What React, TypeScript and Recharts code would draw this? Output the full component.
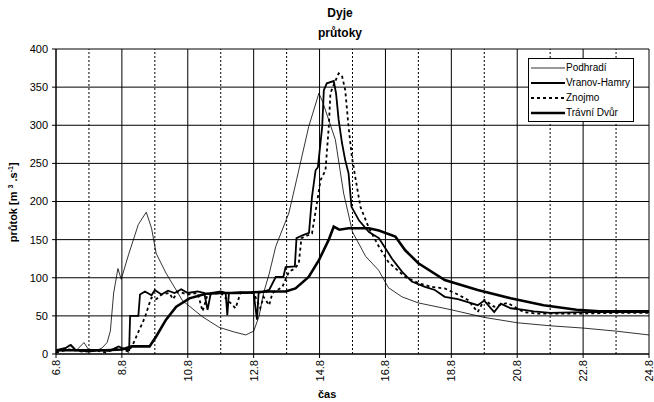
import { LineChart, Line, XAxis, YAxis, CartesianGrid, ReferenceLine } from 'recharts'

// [day of August, discharge m3/s]
const podhradi: [number, number][] = [
  [6, 3], [6.2, 5], [6.4, 12], [6.6, 4], [6.85, 15], [7, 5], [7.2, 4], [7.4, 8], [7.55, 15],
  [7.65, 30], [7.75, 80], [7.88, 112], [7.98, 98], [8.2, 130], [8.5, 170], [8.74, 186],
  [8.9, 165], [9.04, 132], [9.34, 106], [9.84, 70], [10.44, 49], [10.95, 35], [11.4, 29],
  [11.76, 25], [12.0, 30], [12.16, 49], [12.3, 80], [12.47, 105], [12.67, 141], [13.07, 185],
  [13.3, 228], [13.67, 298], [13.98, 342], [14.1, 330], [14.48, 281], [14.73, 211], [15.0, 160],
  [15.4, 128], [15.79, 110], [16.09, 87], [16.5, 75], [17, 67], [18, 58], [19, 48], [20, 41],
  [21, 37], [22, 34], [23, 30], [24, 25],
]

const vranovHamry: [number, number][] = [
  [6, 5], [6.3, 8], [6.45, 12], [6.6, 5], [7.0, 3], [7.3, 5], [7.6, 4], [7.9, 10], [8.1, 6],
  [8.22, 5], [8.25, 50], [8.5, 50], [8.55, 78], [8.7, 82], [8.9, 77], [9.0, 84], [9.2, 78],
  [9.4, 83], [9.6, 80], [9.8, 85], [10.0, 80], [10.3, 82], [10.5, 80], [10.6, 58], [10.7, 80],
  [11.0, 82], [11.15, 80], [11.2, 51], [11.25, 80], [11.6, 81], [12.0, 80], [12.1, 45],
  [12.15, 80], [12.47, 84], [12.67, 101], [12.9, 101], [12.97, 114], [13.25, 115], [13.3, 152],
  [13.5, 156], [13.68, 159], [13.77, 206], [13.88, 241], [13.95, 245], [14.08, 298],
  [14.13, 346], [14.22, 355], [14.43, 358], [14.5, 342], [14.58, 307], [14.68, 277],
  [14.78, 254], [14.88, 237], [14.97, 193], [15.2, 175], [15.5, 160], [15.8, 152], [16.2, 125],
  [16.5, 108], [16.8, 95], [17.2, 88], [17.5, 84], [17.8, 75], [18.2, 72], [18.5, 68],
  [18.8, 64], [19.0, 70], [19.3, 55], [19.5, 66], [19.8, 60], [20.2, 58], [20.5, 56], [21, 54],
  [22, 55], [23, 55], [24, 55],
]

const znojmo: [number, number][] = [
  [6, 2], [6.4, 6], [6.8, 3], [7.2, 5], [7.5, 2], [7.9, 8], [8.2, 3], [8.35, 14], [8.52, 31],
  [8.64, 42], [8.72, 51], [8.84, 67], [8.9, 74], [9.05, 72], [9.2, 78], [9.44, 80], [9.55, 72],
  [9.7, 82], [10.0, 78], [10.3, 80], [10.45, 56], [10.6, 78], [11.0, 80], [11.45, 60],
  [11.6, 80], [12.0, 80], [12.2, 60], [12.3, 75], [12.47, 64], [12.57, 80], [12.87, 88],
  [13.07, 108], [13.25, 112], [13.37, 119], [13.45, 152], [13.77, 158], [13.92, 198],
  [14.03, 228], [14.18, 241], [14.28, 298], [14.33, 342], [14.45, 355], [14.58, 368],
  [14.68, 365], [14.78, 346], [14.88, 298], [14.98, 259], [15.08, 233], [15.24, 193],
  [15.5, 165], [15.8, 141], [16.1, 120], [16.6, 101], [17.0, 93], [17.4, 88], [17.8, 86],
  [18.2, 78], [18.5, 71], [18.8, 55], [19.0, 71], [19.3, 62], [19.7, 67], [20.2, 55],
  [20.6, 53], [21, 53], [22, 53], [23, 54], [24, 54],
]

const travniDvur: [number, number][] = [
  [6, 5], [6.5, 5], [7, 5], [7.5, 5], [8.0, 6], [8.3, 10], [8.84, 10], [9.04, 23], [9.34, 45],
  [9.65, 62], [10.05, 73], [10.55, 79], [11.0, 80], [11.5, 80], [12.0, 81], [12.47, 82],
  [12.97, 82], [13.27, 86], [13.67, 101], [13.98, 123], [14.28, 150], [14.43, 167], [14.6, 163],
  [14.88, 165], [15.5, 165], [15.8, 162], [16.3, 154], [16.6, 136], [17, 119], [17.8, 97],
  [18.8, 84], [19.8, 73], [20.8, 64], [21.8, 58], [22.5, 56], [24, 56],
]

const majorDays = [6, 8, 10, 12, 14, 16, 18, 20, 22, 24]
const minorDays = [7, 9, 11, 13, 15, 17, 19, 21, 23]
const yTicks = [0, 50, 100, 150, 200, 250, 300, 350, 400]

const font = '"Liberation Sans", Arial, sans-serif'

const series = [
  { name: 'Podhradí', data: podhradi, width: 0.8, dash: undefined },
  { name: 'Vranov-Hamry', data: vranovHamry, width: 1.8, dash: undefined },
  { name: 'Znojmo', data: znojmo, width: 1.8, dash: '3 3' },
  { name: 'Trávní Dvůr', data: travniDvur, width: 2.6, dash: undefined },
]

const toPoints = (arr: [number, number][]) => arr.map(([t, v]) => ({ t, v }))

function DayTick(props: any) {
  const { x, y, payload } = props
  return (
    <text
      x={x}
      y={y}
      transform={`rotate(-90 ${x} ${y})`}
      textAnchor="end"
      dy={4}
      fontSize={11}
      fontFamily={font}
      fill="#000"
    >
      {`${payload.value}.8`}
    </text>
  )
}

function LegendBox() {
  return (
    <div
      style={{
        position: 'absolute',
        left: 528,
        top: 58,
        width: 104,
        border: '1px solid #000',
        background: '#fff',
        padding: '1px 0',
        fontFamily: font,
        fontSize: 10,
        lineHeight: '15px',
        whiteSpace: 'nowrap',
      }}
    >
      {series.map((s) => (
        <div key={s.name} style={{ display: 'flex', alignItems: 'center' }}>
          <svg width={34} height={6} style={{ marginLeft: 2, marginRight: 1 }}>
            <line x1={0} y1={3} x2={34} y2={3} stroke="#000" strokeWidth={s.width} strokeDasharray={s.dash} />
          </svg>
          <span>{s.name}</span>
        </div>
      ))}
    </div>
  )
}

export default function App() {
  return (
    <div style={{ position: 'absolute', left: 0, top: 0, width: 654, height: 402, background: '#fff' }}>
      <div
        style={{
          position: 'absolute',
          left: 290,
          top: 3,
          width: 100,
          textAlign: 'center',
          fontFamily: font,
          fontWeight: 'bold',
          fontSize: 12,
          lineHeight: '20px',
        }}
      >
        Dyje
        <br />
        průtoky
      </div>
      <div
        style={{
          position: 'absolute',
          left: 13 - 70,
          top: 196,
          width: 140,
          textAlign: 'center',
          transform: 'rotate(-90deg)',
          fontFamily: font,
          fontWeight: 'bold',
          fontSize: 11,
        }}
      >
        průtok [m <sup style={{ fontSize: 7 }}>3</sup> .s<sup style={{ fontSize: 7 }}>-1</sup>]
      </div>
      <div
        style={{
          position: 'absolute',
          left: 318,
          top: 388,
          fontFamily: font,
          fontWeight: 'bold',
          fontSize: 11,
        }}
      >
        čas
      </div>
      <LineChart width={654} height={402} margin={{ top: 49, right: 5, bottom: 0, left: 0 }}>
        <CartesianGrid stroke="#000" strokeWidth={1} />
        {minorDays.map((d) => (
          <ReferenceLine key={d} x={d} stroke="#000" strokeDasharray="2 2" strokeWidth={1} />
        ))}
        <XAxis
          dataKey="t"
          type="number"
          domain={[6, 24]}
          ticks={majorDays}
          allowDuplicatedCategory={false}
          height={48}
          tick={<DayTick />}
          tickSize={4}
          tickMargin={2}
          interval={0}
          stroke="#000"
        />
        <YAxis
          type="number"
          domain={[0, 400]}
          ticks={yTicks}
          width={56}
          tickSize={4}
          tickMargin={4}
          interval={0}
          stroke="#000"
          tick={{ fill: '#000', fontSize: 11, fontFamily: font }}
        />
        {series.map((s) => (
          <Line
            key={s.name}
            name={s.name}
            data={toPoints(s.data)}
            dataKey="v"
            type="linear"
            stroke="#000"
            strokeWidth={s.width}
            strokeDasharray={s.dash}
            dot={false}
            activeDot={false}
            isAnimationActive={false}
          />
        ))}
      </LineChart>
      <LegendBox />
    </div>
  )
}
